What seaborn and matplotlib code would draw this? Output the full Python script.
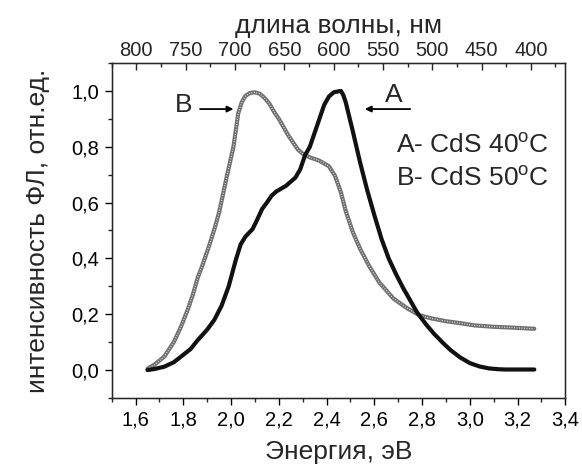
import numpy as np
import pandas as pd
import matplotlib
matplotlib.use("Agg")
import matplotlib.pyplot as plt
from matplotlib.ticker import MultipleLocator, FuncFormatter
import seaborn as sns

# Photoluminescence spectra of CdS films (normalised)
energy_a = [1.65, 1.68, 1.72, 1.76, 1.79, 1.83, 1.86, 1.90, 1.93, 1.96, 1.99, 2.02,
            2.04, 2.06, 2.09, 2.11, 2.13, 2.15, 2.17, 2.19, 2.21, 2.23, 2.25, 2.27,
            2.29, 2.31, 2.33, 2.36, 2.39, 2.41, 2.43, 2.46, 2.47, 2.48, 2.51, 2.54,
            2.57, 2.60, 2.63, 2.66, 2.69, 2.72, 2.75, 2.78, 2.82, 2.85, 2.89, 2.92,
            2.96, 3.00, 3.04, 3.08, 3.12, 3.15, 3.27]
intensity_a = [0.00, 0.004, 0.012, 0.028, 0.048, 0.075, 0.107, 0.145, 0.18, 0.23, 0.30, 0.395,
               0.45, 0.478, 0.505, 0.54, 0.577, 0.60, 0.625, 0.64, 0.65, 0.66, 0.675, 0.69,
               0.72, 0.77, 0.80, 0.875, 0.95, 0.98, 0.995, 1.0, 0.985, 0.96, 0.855, 0.745,
               0.645, 0.555, 0.47, 0.40, 0.345, 0.295, 0.25, 0.205, 0.16, 0.13, 0.095, 0.071,
               0.045, 0.025, 0.013, 0.006, 0.003, 0.002, 0.002]

energy_b = [1.65, 1.68, 1.72, 1.76, 1.79, 1.82, 1.84, 1.86, 1.88, 1.91, 1.93, 1.95,
            1.98, 2.01, 2.03, 2.045, 2.06, 2.08, 2.10, 2.12, 2.14, 2.16, 2.18, 2.20,
            2.22, 2.24, 2.26, 2.28, 2.30, 2.33, 2.37, 2.41, 2.435, 2.46, 2.48, 2.51,
            2.54, 2.58, 2.62, 2.68, 2.74, 2.79, 2.84, 2.90, 2.96, 3.02, 3.10, 3.18, 3.27]
intensity_b = [0.005, 0.02, 0.048, 0.10, 0.155, 0.22, 0.27, 0.33, 0.375, 0.45, 0.505, 0.565,
               0.685, 0.80, 0.92, 0.96, 0.982, 0.993, 0.995, 0.99, 0.975, 0.955, 0.925, 0.90,
               0.87, 0.84, 0.815, 0.79, 0.775, 0.762, 0.75, 0.73, 0.696, 0.637, 0.57, 0.494,
               0.435, 0.37, 0.315, 0.256, 0.22, 0.196, 0.185, 0.175, 0.168, 0.16, 0.155, 0.152, 0.148]

energy_ticks = [1.6, 1.8, 2.0, 2.2, 2.4, 2.6, 2.8, 3.0, 3.2, 3.4]
intensity_ticks = [0.0, 0.2, 0.4, 0.6, 0.8, 1.0]
wavelength_ticks = [800, 750, 700, 650, 600, 550, 500, 450, 400]

legend_lines = ["A- CdS 40$^{\\mathrm{o}}$C", "B- CdS 50$^{\\mathrm{o}}$C"]

sns.set_style("ticks")
plt.rcParams["font.family"] = ["Liberation Sans", "DejaVu Sans"]
plt.rcParams["mathtext.fontset"] = "custom"
plt.rcParams["mathtext.rm"] = "Liberation Sans"
plt.rcParams["mathtext.it"] = "Liberation Sans:italic"

df_a = pd.DataFrame({"E": energy_a, "I": intensity_a})
df_b = pd.DataFrame({"E": energy_b, "I": intensity_b})

fig = plt.figure(figsize=(5.82, 4.68), dpi=100)
ax = fig.add_axes([0.1919, 0.1496, 0.7795, 0.7158])

# curve B: grey band with a fine white dotted core (hollow-marker look)
sns.lineplot(data=df_b, x="E", y="I", ax=ax, sort=False, color="#6f6f6f",
             linewidth=3.0, estimator=None, solid_joinstyle="round",
             solid_capstyle="round")
ax.plot(energy_b, intensity_b, color="white", linewidth=0.9,
        linestyle=(0, (0.6, 1.4)), solid_joinstyle="round")
# curve A: solid black
sns.lineplot(data=df_a, x="E", y="I", ax=ax, sort=False, color="#111111",
             linewidth=3.0, estimator=None, solid_joinstyle="round",
             solid_capstyle="round")

ax.set_xlim(1.5, 3.4)
ax.set_ylim(-0.1, 1.1)
ax.set_xticks(energy_ticks)
ax.set_yticks(intensity_ticks)
ax.xaxis.set_minor_locator(MultipleLocator(0.1))
ax.yaxis.set_minor_locator(MultipleLocator(0.1))
comma = FuncFormatter(lambda v, p: f"{v:.1f}".replace(".", ","))
ax.xaxis.set_major_formatter(comma)
ax.yaxis.set_major_formatter(comma)

for s in ax.spines.values():
    s.set_visible(True)
    s.set_color("black")
    s.set_linewidth(1.0)

ax.tick_params(axis="both", which="major", direction="out", length=5, width=1,
               labelsize=14.5, pad=4, colors="black")
ax.tick_params(axis="both", which="minor", direction="out", length=3, width=1)
ax.tick_params(top=False, right=False, which="both")

ax.set_xlabel("Энергия, эВ", fontsize=19)
ax.set_ylabel("интенсивность ФЛ, отн.ед.", fontsize=19)
ax.xaxis.set_label_coords(0.5, -0.125)
ax.yaxis.set_label_coords(-0.135, 0.5)

# wavelength scale on top
top = ax.twiny()
top.set_xlim(825, 365)
top.set_xticks(wavelength_ticks)
top.xaxis.set_minor_locator(MultipleLocator(25))
top.tick_params(axis="x", which="major", direction="in", length=5, width=1,
                labelsize=14.5, pad=2)
top.tick_params(axis="x", which="minor", direction="in", length=3, width=1)
top.set_xlabel("длина волны, нм", fontsize=19, labelpad=6)

# curve labels with arrows
ax.text(1.80, 0.95, "B", fontsize=19, ha="center", va="center")
ax.annotate("", xy=(2.01, 0.935), xytext=(1.87, 0.935),
            arrowprops=dict(arrowstyle="-|>", color="black", lw=1.3,
                            mutation_scale=9, shrinkA=0, shrinkB=0))
ax.text(2.68, 0.985, "A", fontsize=19, ha="center", va="center")
ax.annotate("", xy=(2.56, 0.935), xytext=(2.75, 0.935),
            arrowprops=dict(arrowstyle="-|>", color="black", lw=1.3,
                            mutation_scale=9, shrinkA=0, shrinkB=0))

ax.text(2.69, 0.805, legend_lines[0], fontsize=19, ha="left", va="center")
ax.text(2.69, 0.685, legend_lines[1], fontsize=19, ha="left", va="center")

fig.savefig("out.png", dpi=100)
